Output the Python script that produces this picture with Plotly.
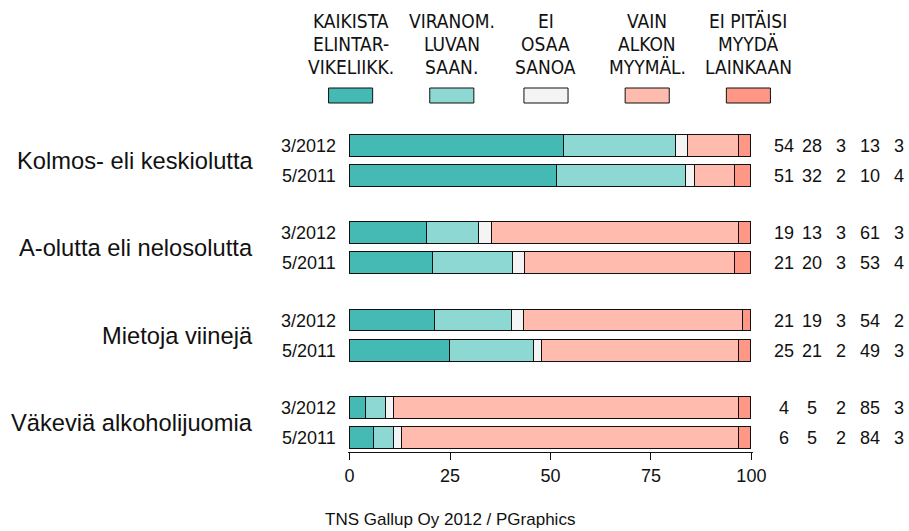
"""
Alkoholijuomien myynti: mielipiteet 3/2012 ja 5/2011 (pinottu vaakapylväs)
"""
import plotly.graph_objects as go

# Data
kategoriat = ["Kolmos- eli keskiolutta", "A-olutta eli nelosolutta",
              "Mietoja viinejä", "Väkeviä alkoholijuomia"]
jaksot = ["3/2012", "5/2011"]

sarjat = ["KAIKISTA<br>ELINTAR-<br>VIKELIIKK.", "VIRANOM.<br>LUVAN<br>SAAN.",
          "EI<br>OSAA<br>SANOA", "VAIN<br>ALKON<br>MYYMÄL.", "EI PITÄISI<br>MYYDÄ<br>LAINKAAN"]

kaikista = [54, 51, 19, 21, 21, 25, 4, 6]
viranom = [28, 32, 13, 20, 19, 21, 5, 5]
ei_osaa = [3, 2, 3, 3, 3, 2, 2, 2]
vain_alko = [13, 10, 61, 53, 54, 49, 85, 84]
ei_pitaisi = [3, 4, 3, 4, 2, 3, 3, 3]

arvot = [kaikista, viranom, ei_osaa, vain_alko, ei_pitaisi]
varit = ["#45b9b4", "#8ed8d3", "#f4f4f4", "#ffbbae", "#ff9787"]

# Asettelu (pikseleinä)
W, H = 909, 531
M_L, M_R, M_T, M_B = 348.4, 156.4, 120, 531 - 452
RYHMAVALI = 2.9


def px_x(p):
    return (p - M_L) / (W - M_L - M_R)


def px_y(p):
    return (H - M_B - p) / (H - M_T - M_B)


rivit_y = []
rivit_jakso = []
for g in range(len(kategoriat)):
    for r, j in enumerate(jaksot):
        rivit_y.append(g * RYHMAVALI + r)
        rivit_jakso.append(j)

summat = [sum(s[i] for s in arvot) for i in range(len(rivit_y))]

fig = go.Figure()
for nimi, s, vari in zip(sarjat, arvot, varit):
    osuudet = [v / t * 100 for v, t in zip(s, summat)]
    fig.add_trace(go.Bar(
        x=osuudet, y=rivit_y, orientation="h", width=0.73,
        marker=dict(color=vari, line=dict(color="#111111", width=1)),
        name=nimi.replace("<br>", " "), showlegend=False,
    ))

FONT = "Liberation Sans, Arial, sans-serif"
KAPEA = "Liberation Sans Narrow, Arial Narrow, DejaVu Sans Condensed, sans-serif"

ann = []
# Jaksot ja luvut oikealla
sarake_x = [784, 811, 840, 869, 898]
for i, y in enumerate(rivit_y):
    ann.append(dict(x=px_x(338), y=y, xref="paper", yref="y", text=rivit_jakso[i],
                    xanchor="right", yanchor="middle", showarrow=False,
                    font=dict(size=18, family=FONT, color="#111111")))
    for k, s in enumerate(arvot):
        ann.append(dict(x=px_x(sarake_x[k]), y=y, xref="paper", yref="y", text=str(s[i]),
                        xanchor="center", yanchor="middle", showarrow=False,
                        font=dict(size=18, family=FONT, color="#111111")))

# Kategoriat vasemmalla
for g, k in enumerate(kategoriat):
    ann.append(dict(x=px_x(256), y=g * RYHMAVALI + 0.5, xref="paper", yref="y", text=k,
                    xanchor="right", yanchor="middle", showarrow=False,
                    font=dict(size=23.7, family=FONT, color="#111111")))

# Selite ylhäällä
selite_x = [351, 452, 546, 647, 748]
shapes = []
for nimi, cx, vari in zip(sarjat, selite_x, varit):
    for n, rivi in enumerate(nimi.split("<br>")):
        ann.append(dict(x=px_x(cx), y=px_y(21 + 23 * n), xref="paper", yref="paper",
                        text=rivi, xanchor="center", yanchor="middle", showarrow=False,
                        font=dict(size=19, family=KAPEA, color="#111111")))
    shapes.append(dict(type="rect", xref="paper", yref="paper",
                       x0=px_x(cx - 22), x1=px_x(cx + 22), y0=px_y(103), y1=px_y(88),
                       fillcolor=vari, line=dict(color="#111111", width=1)))

# Lähde
ann.append(dict(x=px_x(450), y=px_y(519), xref="paper", yref="paper",
                text="TNS Gallup Oy 2012 / PGraphics", xanchor="center", yanchor="middle",
                showarrow=False, font=dict(size=17, family=FONT, color="#111111")))

fig.update_layout(
    width=W, height=H,
    margin=dict(l=M_L, r=M_R, t=M_T, b=M_B),
    barmode="stack", bargap=0,
    paper_bgcolor="white", plot_bgcolor="white",
    font=dict(family=FONT, color="#111111"),
    annotations=ann, shapes=shapes,
    xaxis=dict(range=[-0.4, 100.4], tickvals=[0, 25, 50, 75, 100],
               ticks="outside", ticklen=7, tickcolor="#111111",
               showline=True, linecolor="#111111", showgrid=False, zeroline=False,
               tickfont=dict(size=18, family=FONT, color="#111111"), fixedrange=True),
    yaxis=dict(range=[10.17, -0.864], showticklabels=False, showgrid=False,
               zeroline=False, fixedrange=True),
)

fig.write_html("out.html", config={"displayModeBar": False},
               post_script="document.body.style.margin='0';")
